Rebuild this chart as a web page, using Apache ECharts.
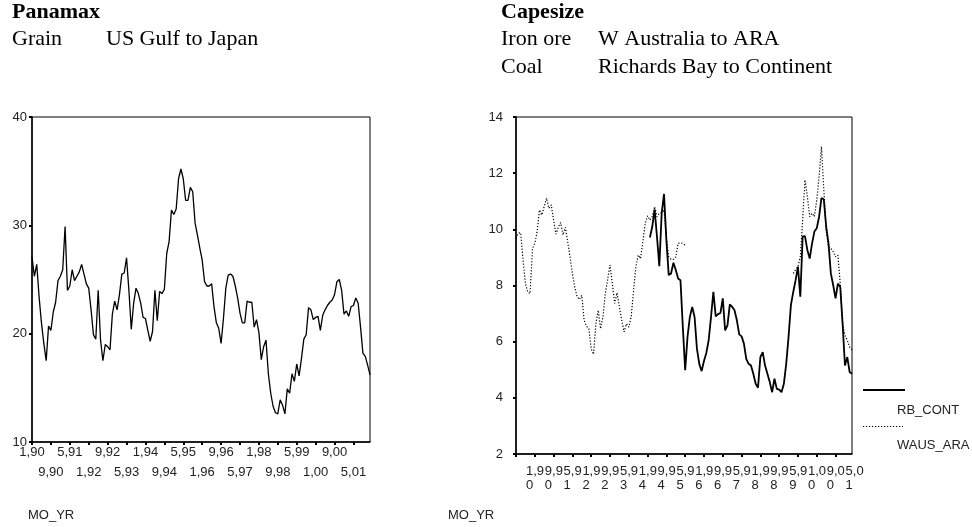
<!DOCTYPE html>
<html>
<head>
<meta charset="utf-8">
<script src="https://cdn.jsdelivr.net/npm/echarts@6/dist/echarts.min.js"></script>
<style>
  html, body { margin: 0; padding: 0; background: #fff; }
  #chart { width: 972px; height: 527px; }
</style>
</head>
<body>
<div id="chart"></div>
<script>
// Monthly periods, January 1990 to December 2001, labelled "month,yy"
const years = [1990, 1991, 1992, 1993, 1994, 1995, 1996, 1997, 1998, 1999, 2000, 2001];
const monthYear = [];
years.forEach(function (y) {
  for (let m = 1; m <= 12; m++) monthYear.push(m + ',' + String(y).slice(2));
});

// Panamax grain freight, US Gulf to Japan
const grainUsGulfJapan = [
  27.1, 25.3, 26.4, 23.4, 21.0, 19.1, 17.5, 20.7, 20.3, 22.0,
  22.9, 24.9, 25.3, 25.9, 29.9, 24.0, 24.4, 25.9, 24.9, 25.3,
  25.7, 26.4, 25.5, 24.6, 24.2, 22.2, 19.9, 19.5, 24.0, 19.4,
  17.5, 19.0, 18.8, 18.5, 21.8, 23.0, 22.2, 23.6, 25.5, 25.6,
  27.0, 24.0, 20.4, 22.8, 24.2, 23.7, 22.8, 21.5, 21.4, 20.3,
  19.3, 20.2, 24.0, 21.2, 23.9, 23.7, 24.1, 27.4, 28.5, 31.4,
  31.0, 31.5, 34.3, 35.2, 34.3, 32.3, 32.3, 33.5, 33.1, 30.2,
  29.1, 27.9, 26.8, 24.8, 24.4, 24.4, 24.6, 22.5, 21.0, 20.5,
  19.1, 21.4, 24.2, 25.4, 25.5, 25.3, 24.4, 23.3, 21.9, 21.0,
  21.0, 23.0, 22.9, 22.9, 20.6, 21.3, 20.1, 17.6, 18.8, 19.4,
  16.3, 14.5, 13.3, 12.7, 12.6, 13.9, 13.4, 12.6, 14.9, 14.5,
  16.3, 15.6, 17.2, 16.1, 17.7, 19.5, 19.9, 22.4, 22.2, 21.3,
  21.5, 21.6, 20.3, 21.7, 22.2, 22.6, 22.9, 23.1, 23.6, 24.8,
  25.0, 24.0, 21.8, 22.1, 21.6, 22.5, 22.6, 23.3, 22.8, 20.6,
  18.2, 17.9, 17.1, 16.2
];

// Capesize coal, Richards Bay to Continent (quoted from month 57 onward)
const rbContFirstMonth = 57;
const rbCont = [
  9.71, 10.10, 10.71, 9.74, 8.69, 10.57, 11.26, 9.62, 8.37, 8.43,
  8.81, 8.55, 8.25, 8.19, 6.52, 4.98, 6.17, 6.88, 7.24, 6.88,
  5.75, 5.21, 4.95, 5.31, 5.60, 6.05, 6.88, 7.77, 6.90, 6.98,
  7.02, 7.54, 6.40, 6.58, 7.33, 7.24, 7.12, 6.76, 6.26, 6.19,
  5.93, 5.39, 5.21, 5.15, 4.86, 4.50, 4.36, 5.45, 5.63, 5.15,
  4.86, 4.56, 4.20, 4.68, 4.32, 4.29, 4.20, 4.50, 5.21, 6.17,
  7.30, 7.77, 8.19, 8.67, 7.60, 9.74, 9.76, 9.26, 8.96, 9.50,
  9.92, 10.04, 10.45, 11.11, 11.07, 10.10, 9.50, 8.43, 8.01, 7.54,
  8.07, 7.95, 6.64, 5.15, 5.45, 4.92, 4.86
];

// Capesize iron ore, W Australia to ARA: two quoted stretches
const wausAraEarly = [
  9.68, 9.86, 9.88, 8.90, 8.07, 7.77, 7.71, 9.32, 9.50, 9.92,
  10.69, 10.51, 10.81, 11.11, 10.75, 10.87, 10.33, 9.83, 10.07, 10.24,
  9.80, 10.07, 9.56, 9.02, 8.43, 7.95, 7.60, 7.50, 7.65, 6.76,
  6.55, 6.46, 5.75, 5.55, 6.64, 7.12, 6.46, 6.88, 7.71, 8.21,
  8.73, 8.07, 7.36, 7.74, 7.24, 6.76, 6.35, 6.64, 6.52, 6.88,
  7.77, 8.67, 9.08, 8.96, 9.56, 10.21, 10.48, 10.33, 10.45, 10.81,
  10.45, 10.57, 10.60, 10.69, 9.68, 9.02, 8.93, 8.93, 9.02, 9.50,
  9.52, 9.50, 9.44
];
const wausAraLateFirstMonth = 118;
const wausAraLate = [
  8.43, 8.57, 8.67, 9.02, 10.33, 11.76, 11.17, 10.45, 10.57, 10.45,
  11.05, 11.88, 12.95, 11.40, 9.98, 9.38, 9.32, 9.20, 9.02, 9.08,
  8.07, 6.64, 6.23, 6.05, 5.81, 5.71
];

const seriesNames = ['RB_CONT', 'WAUS_ARA'];
const leftYTicks = [10, 20, 30, 40];
const rightYTicks = [2, 4, 6, 8, 10, 12, 14];
const axisTitle = 'MO_YR';

// Place each quoted stretch on the full monthly axis (unquoted months stay empty)
function onAxis(firstMonth, values) {
  const out = new Array(monthYear.length).fill(null);
  values.forEach(function (v, i) { out[firstMonth + i] = v; });
  return out;
}
const rbContSeries = onAxis(rbContFirstMonth, rbCont);
const wausAraSeries = onAxis(0, wausAraEarly);
wausAraLate.forEach(function (v, i) { wausAraSeries[wausAraLateFirstMonth + i] = v; });

const SANS = '"Liberation Sans", Arial, sans-serif';
const SERIF = '"Liberation Serif", "Times New Roman", serif';
const TICK_STEP = 8;          // a tick every eight months
const LABEL_CYCLE = 16;       // labels alternate between two sets

function yAxisFor(gridIndex, ticks, labelMargin) {
  return {
    type: 'value', gridIndex: gridIndex,
    min: ticks[0], max: ticks[ticks.length - 1], interval: ticks[1] - ticks[0],
    splitLine: { show: false },
    axisLine: { show: true, lineStyle: { color: '#000', width: 1.5 } },
    axisTick: { show: true, length: 3, lineStyle: { color: '#000', width: 2 } },
    axisLabel: { color: '#222', fontFamily: SANS, fontSize: 13, margin: labelMargin }
  };
}

// One month axis per label set; the first draws the line and ticks,
// the second only carries the in-between labels.
function xAxisFor(gridIndex, phase, main, label) {
  return {
    type: 'category', gridIndex: gridIndex, data: monthYear, boundaryGap: false,
    position: 'bottom', offset: 0,
    axisLine: { show: main, onZero: false, lineStyle: { color: '#000', width: 1.5 } },
    axisTick: { show: main, interval: TICK_STEP - 1, length: 3, lineStyle: { color: '#000', width: 2 } },
    axisLabel: Object.assign({
      interval: function (idx) { return idx % LABEL_CYCLE === phase; },
      color: '#222', fontFamily: SANS, fontSize: 13, hideOverlap: false
    }, label),
    splitLine: { show: false }
  };
}

function wrapYear(v) { return v.slice(0, v.length - 1) + '\n' + v.slice(-1); }
const rightLabel = { margin: 10, lineHeight: 14, align: 'left', padding: [0, 0, 0, 10], formatter: wrapYear };

const chart = echarts.init(document.getElementById('chart'), null, { renderer: 'canvas' });

chart.setOption({
  animation: false,
  backgroundColor: '#fff',
  grid: [
    { left: 32, top: 117, width: 338, height: 325, show: true, borderColor: '#000', borderWidth: 1, backgroundColor: 'transparent', outerBoundsMode: 'none' },
    { left: 516, top: 117, width: 336, height: 337, show: true, borderColor: '#000', borderWidth: 1, backgroundColor: 'transparent', outerBoundsMode: 'none' }
  ],
  xAxis: [
    xAxisFor(0, 0, true, { margin: 4 }),
    xAxisFor(0, TICK_STEP, false, { margin: 24 }),
    xAxisFor(1, 0, true, rightLabel),
    xAxisFor(1, TICK_STEP, false, rightLabel)
  ],
  yAxis: [
    yAxisFor(0, leftYTicks, 5),
    yAxisFor(1, rightYTicks, 13)
  ],
  series: [
    {
      name: 'Grain', type: 'line', xAxisIndex: 0, yAxisIndex: 0, data: grainUsGulfJapan,
      showSymbol: false, lineStyle: { color: '#000', width: 1.3 }, silent: true
    },
    {
      name: seriesNames[0], type: 'line', xAxisIndex: 2, yAxisIndex: 1, data: rbContSeries,
      showSymbol: false, connectNulls: false, lineStyle: { color: '#000', width: 1.8 }, silent: true
    },
    {
      name: seriesNames[1], type: 'line', xAxisIndex: 2, yAxisIndex: 1, data: wausAraSeries,
      showSymbol: false, connectNulls: false, lineStyle: { color: '#000', width: 1.2, type: [1.2, 1.8] }, silent: true
    }
  ],
  graphic: [
    // chart headings
    { type: 'text', x: 12, y: 12, style: { text: 'Panamax', font: 'bold 22px ' + SERIF, fill: '#000', verticalAlign: 'middle' } },
    { type: 'text', x: 12, y: 39.5, style: { text: 'Grain', font: '22px ' + SERIF, fill: '#000', verticalAlign: 'middle' } },
    { type: 'text', x: 106, y: 39.5, style: { text: 'US Gulf to Japan', font: '22px ' + SERIF, fill: '#000', verticalAlign: 'middle' } },
    { type: 'text', x: 501, y: 12, style: { text: 'Capesize', font: 'bold 22px ' + SERIF, fill: '#000', verticalAlign: 'middle' } },
    { type: 'text', x: 501, y: 39.5, style: { text: 'Iron ore', font: '22px ' + SERIF, fill: '#000', verticalAlign: 'middle' } },
    { type: 'text', x: 598, y: 39.5, style: { text: 'W Australia to ARA', font: '22px ' + SERIF, fill: '#000', verticalAlign: 'middle' } },
    { type: 'text', x: 501, y: 67, style: { text: 'Coal', font: '22px ' + SERIF, fill: '#000', verticalAlign: 'middle' } },
    { type: 'text', x: 598, y: 67, style: { text: 'Richards Bay to Continent', font: '22px ' + SERIF, fill: '#000', verticalAlign: 'middle' } },
    // axis titles
    { type: 'text', x: 28, y: 515, style: { text: axisTitle, font: '13px ' + SANS, fill: '#222', verticalAlign: 'middle' } },
    { type: 'text', x: 448, y: 515, style: { text: axisTitle, font: '13px ' + SANS, fill: '#222', verticalAlign: 'middle' } },
    // legend
    { type: 'line', shape: { x1: 863, y1: 390, x2: 905, y2: 390 }, style: { stroke: '#000', lineWidth: 1.8 } },
    { type: 'text', x: 897, y: 410, style: { text: seriesNames[0], font: '13px ' + SANS, fill: '#222', verticalAlign: 'middle' } },
    { type: 'line', shape: { x1: 863, y1: 426.5, x2: 903, y2: 426.5 }, style: { stroke: '#000', lineWidth: 1.2, lineDash: [1.2, 1.8] } },
    { type: 'text', x: 897, y: 445, style: { text: seriesNames[1], font: '13px ' + SANS, fill: '#222', verticalAlign: 'middle' } }
  ]
});
</script>
</body>
</html>
